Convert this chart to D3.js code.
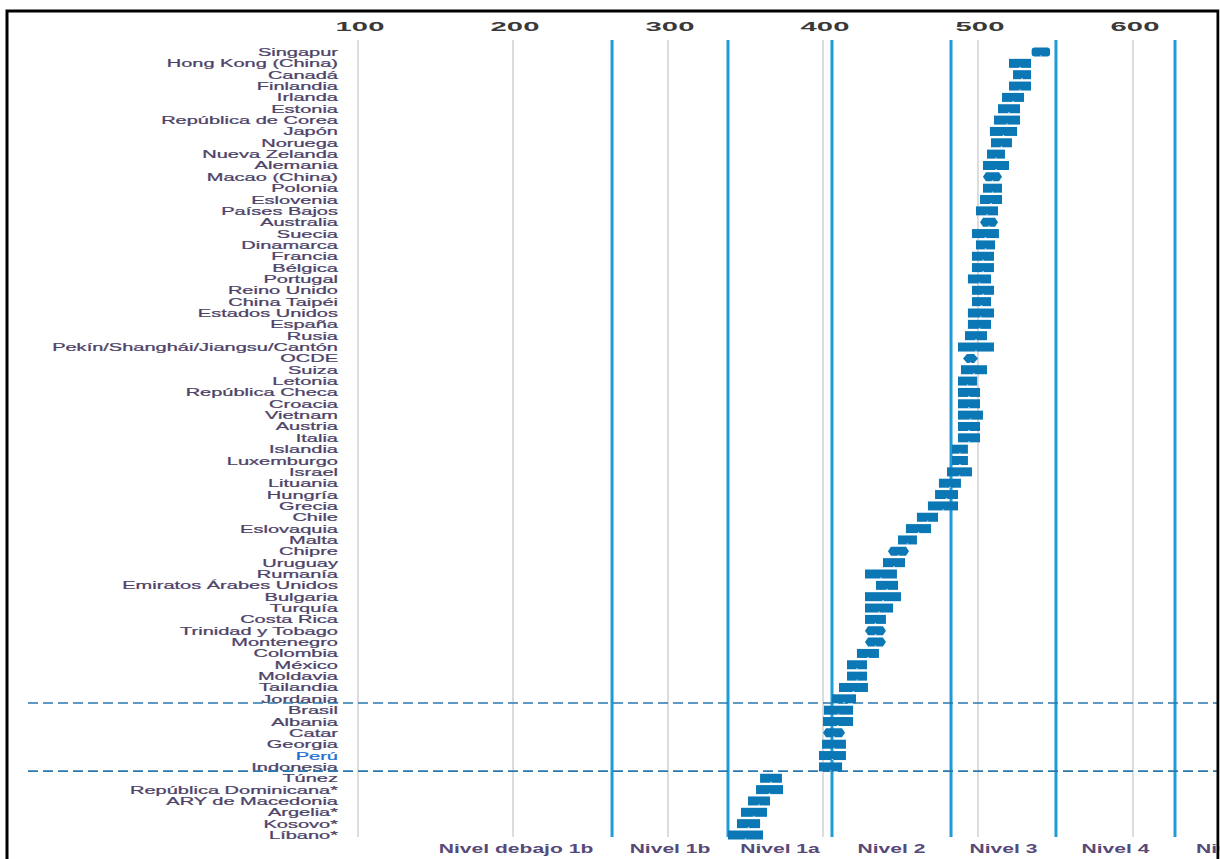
<!DOCTYPE html>
<html>
<head>
<meta charset="utf-8">
<script src="https://cdn.jsdelivr.net/npm/d3@7"></script>
<style>
  html, body { margin: 0; padding: 0; background: #fff; }
  svg { display: block; }
</style>
</head>
<body>
<svg id="chart" width="1220" height="859"></svg>
<script>
// ---- Data ----
const countries = [
  "Singapur","Hong Kong (China)","Canadá","Finlandia","Irlanda","Estonia","República de Corea","Japón","Noruega","Nueva Zelanda",
  "Alemania","Macao (China)","Polonia","Eslovenia","Países Bajos","Australia","Suecia","Dinamarca","Francia","Bélgica",
  "Portugal","Reino Unido","China Taipéi","Estados Unidos","España","Rusia","Pekín/Shanghái/Jiangsu/Cantón","OCDE","Suiza","Letonia",
  "República Checa","Croacia","Vietnam","Austria","Italia","Islandia","Luxemburgo","Israel","Lituania","Hungría",
  "Grecia","Chile","Eslovaquia","Malta","Chipre","Uruguay","Rumanía","Emiratos Árabes Unidos","Bulgaria","Turquía",
  "Costa Rica","Trinidad y Tobago","Montenegro","Colombia","México","Moldavia","Tailandia","Jordania","Brasil","Albania",
  "Catar","Georgia","Perú","Indonesia","Túnez","República Dominicana*","ARY de Macedonia","Argelia*","Kosovo*","Líbano*"
];
// lower and upper ends of each bar (score points)
const lowValues = [
  534.6,520.0,522.6,520.0,515.5,512.9,510.3,507.7,508.4,505.8,
  503.2,503.2,503.2,501.3,498.7,501.3,496.1,498.7,496.1,496.1,
  493.5,496.1,496.1,493.5,493.5,491.6,487.1,490.3,489.0,487.1,
  487.1,487.1,487.1,487.1,487.1,483.2,483.2,480.0,474.8,472.3,
  467.7,460.6,453.5,448.4,441.9,438.7,427.1,434.2,427.1,427.1,
  427.1,427.1,427.1,421.9,415.5,415.5,410.3,405.8,400.6,400.0,
  400.0,399.4,397.4,397.4,359.4,356.8,351.6,347.1,344.5,338.7
];
const highValues = [
  546.5,534.2,534.2,534.2,529.7,527.1,527.1,525.2,521.9,517.4,
  520.0,515.5,515.5,515.5,512.9,512.9,513.5,511.0,510.3,510.3,
  508.4,510.3,508.4,510.3,508.4,505.8,510.3,500.0,505.8,499.4,
  501.3,501.3,503.2,501.3,501.3,493.5,493.5,496.1,489.0,487.1,
  487.1,474.2,469.7,460.6,455.5,452.9,447.7,448.4,450.3,445.2,
  440.6,440.6,440.6,436.1,428.4,428.4,429.0,421.3,419.4,419.4,
  414.2,414.8,414.8,412.3,373.5,374.2,365.8,363.9,359.4,361.3
];
const tickValues = [100, 200, 300, 400, 500, 600];
const levelCuts = [263.9, 338.7, 405.8, 482.6, 550.3, 627.1];
const levelNames = ["Nivel debajo 1b","Nivel 1b","Nivel 1a","Nivel 2","Nivel 3","Nivel 4","Nivel 5"];
const highlighted = ["Perú"];
const pointedRows = ["Macao (China)","Australia","Chipre","Trinidad y Tobago","Montenegro","Catar"];
const dividerAfter = ["Jordania","Indonesia"];

// ---- Layout ----
const svg = d3.select("#chart");
const FONT = "'Liberation Sans', Arial, Helvetica, sans-serif";
const x = d3.scaleLinear().domain([100, 600]).range([358, 1133]);
const y = d3.scalePoint().domain(countries).range([52, 835]);
const plotTop = 40, plotBottom = 837;

// gray gridlines
svg.append("g").selectAll("line").data(tickValues).join("line")
  .attr("x1", d => x(d)).attr("x2", d => x(d))
  .attr("y1", plotTop).attr("y2", plotBottom)
  .attr("stroke", "#dcdcdc").attr("stroke-width", 2);

// level lines
svg.append("g").selectAll("line").data(levelCuts).join("line")
  .attr("x1", d => x(d)).attr("x2", d => x(d))
  .attr("y1", plotTop).attr("y2", plotBottom)
  .attr("stroke", "#1f9bd8").attr("stroke-width", 3);

// top axis labels
const axisG = svg.append("g");
tickValues.forEach(v => {
  axisG.append("text")
    .attr("transform", `translate(${x(v) + 2},31) scale(2.25,1)`)
    .attr("text-anchor", "middle")
    .attr("font-family", FONT).attr("font-size", 13).attr("font-weight", "bold")
    .attr("fill", "#3b3838")
    .text(v);
});

// country labels
const labG = svg.append("g");
countries.forEach(c => {
  labG.append("text")
    .attr("transform", `translate(338,${y(c) + 4}) scale(1.82,1)`)
    .attr("text-anchor", "end")
    .attr("font-family", FONT).attr("font-size", 11)
    .attr("fill", highlighted.includes(c) ? "#1f6fd2" : "#4d4368")
    .attr("stroke", highlighted.includes(c) ? "#1f6fd2" : "#4d4368")
    .attr("stroke-width", 0.25)
    .text(c);
});

// divider dashed lines
dividerAfter.forEach(c => {
  const i = countries.indexOf(c);
  const yy = (y(countries[i]) + y(countries[i + 1])) / 2 - 1.5;
  svg.append("line")
    .attr("x1", 28).attr("x2", 1217)
    .attr("y1", yy).attr("y2", yy)
    .attr("stroke", "#2a78ae").attr("stroke-width", 1.6)
    .attr("stroke-dasharray", "10,5");
});

// bars
const barH = 9;
const barColor = "#0b77b4";
const barG = svg.append("g");
countries.forEach((c, i) => {
  const x0 = x(lowValues[i]), x1 = x(highValues[i]);
  const yc = y(c);
  if (c === "OCDE" || pointedRows.includes(c)) {
    const p = c === "OCDE" ? 4 : 3;
    barG.append("path")
      .attr("d", `M${x0},${yc} L${x0 + p},${yc - barH / 2} L${x1 - p},${yc - barH / 2} L${x1},${yc} L${x1 - p},${yc + barH / 2} L${x0 + p},${yc + barH / 2} Z`)
      .attr("fill", barColor);
  } else {
    barG.append("rect")
      .attr("x", x0).attr("y", yc - barH / 2)
      .attr("width", x1 - x0).attr("height", barH)
      .attr("rx", i === 0 ? 3 : 0)
      .attr("fill", barColor);
  }
  // small white notch (mean marker) on the lower edge
  const xm = (x0 + x1) / 2;
  barG.append("rect").attr("x", xm - 0.75).attr("y", yc + barH / 2 - 1).attr("width", 1.5).attr("height", 1).attr("fill", "#fff").attr("opacity", 0.8);
});

// level labels (bottom)
const edges = [140, ...levelCuts, 698];
const lvlG = svg.append("g");
levelNames.forEach((n, i) => {
  const cx = (x(edges[i]) + x(edges[i + 1])) / 2;
  lvlG.append("text")
    .attr("transform", `translate(${cx},853) scale(1.62,1)`)
    .attr("text-anchor", "middle")
    .attr("font-family", FONT).attr("font-size", 13).attr("font-weight", "bold")
    .attr("fill", "#574a78")
    .text(n);
});

// frame
svg.append("rect")
  .attr("x", 7).attr("y", 11).attr("width", 1211).attr("height", 870)
  .attr("fill", "none").attr("stroke", "#000").attr("stroke-width", 3);
// white mask beyond right frame
svg.append("rect").attr("x", 1219.5).attr("y", 0).attr("width", 10).attr("height", 859).attr("fill", "#fff");
</script>
</body>
</html>
